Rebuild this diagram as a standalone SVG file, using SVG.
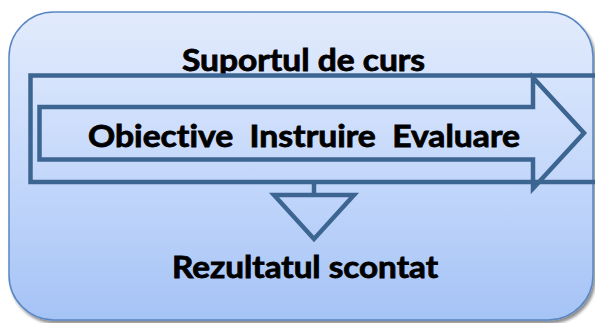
<svg xmlns="http://www.w3.org/2000/svg" width="595" height="323" viewBox="0 0 595 323">
  <defs>
    <linearGradient id="bg" x1="0" y1="0" x2="0" y2="1">
      <stop offset="0" stop-color="#e2ebfc"/>
      <stop offset="0.5" stop-color="#c6d9fb"/>
      <stop offset="1" stop-color="#a5c3f6"/>
    </linearGradient>
    <filter id="sh" x="-5%" y="-5%" width="110%" height="115%">
      <feGaussianBlur in="SourceAlpha" stdDeviation="1.5"/>
      <feOffset dx="1.5" dy="2.5" result="b"/>
      <feComponentTransfer><feFuncA type="linear" slope="0.45"/></feComponentTransfer>
      <feMerge><feMergeNode/><feMergeNode in="SourceGraphic"/></feMerge>
    </filter>
  </defs>
  <style>
    .ln { fill: none; stroke: #3d6592; stroke-width: 4.5; stroke-linejoin: miter; }
    .t { font-family: Lato, "Open Sans", "Liberation Sans", sans-serif; font-weight: bold; font-size: 29.5px; fill: #000; stroke: #000; stroke-width: 0.8; white-space: pre; font-variant-ligatures: none; }
  </style>
  <g id="container">
    <rect x="9" y="12" width="584" height="308" rx="45" ry="45" fill="url(#bg)" stroke="#5a86c2" stroke-width="1.5" filter="url(#sh)"/>
    <text class="t" x="182" y="71" textLength="243" lengthAdjust="spacingAndGlyphs">Suportul de curs</text>
  </g>
  <g id="frame">
    <path class="ln" d="M620,75.5 H30.5 V182 H620"/>
  </g>
  <g id="process">
    <path class="ln" d="M39.5,107 H533 V77.5 L584,133 L533,188.5 V159.5 H39.5 Z"/>
    <text class="t" x="88" y="147" textLength="432" lengthAdjust="spacingAndGlyphs">Obiective  Instruire  Evaluare</text>
  </g>
  <g id="connectors">
    <path class="ln" d="M314,182 V195"/>
    <path class="ln" d="M274,195 H354 L314,239 Z"/>
  </g>
  <g id="result">
    <text class="t" x="172" y="278" textLength="266" lengthAdjust="spacingAndGlyphs">Rezultatul scontat</text>
  </g>
</svg>
